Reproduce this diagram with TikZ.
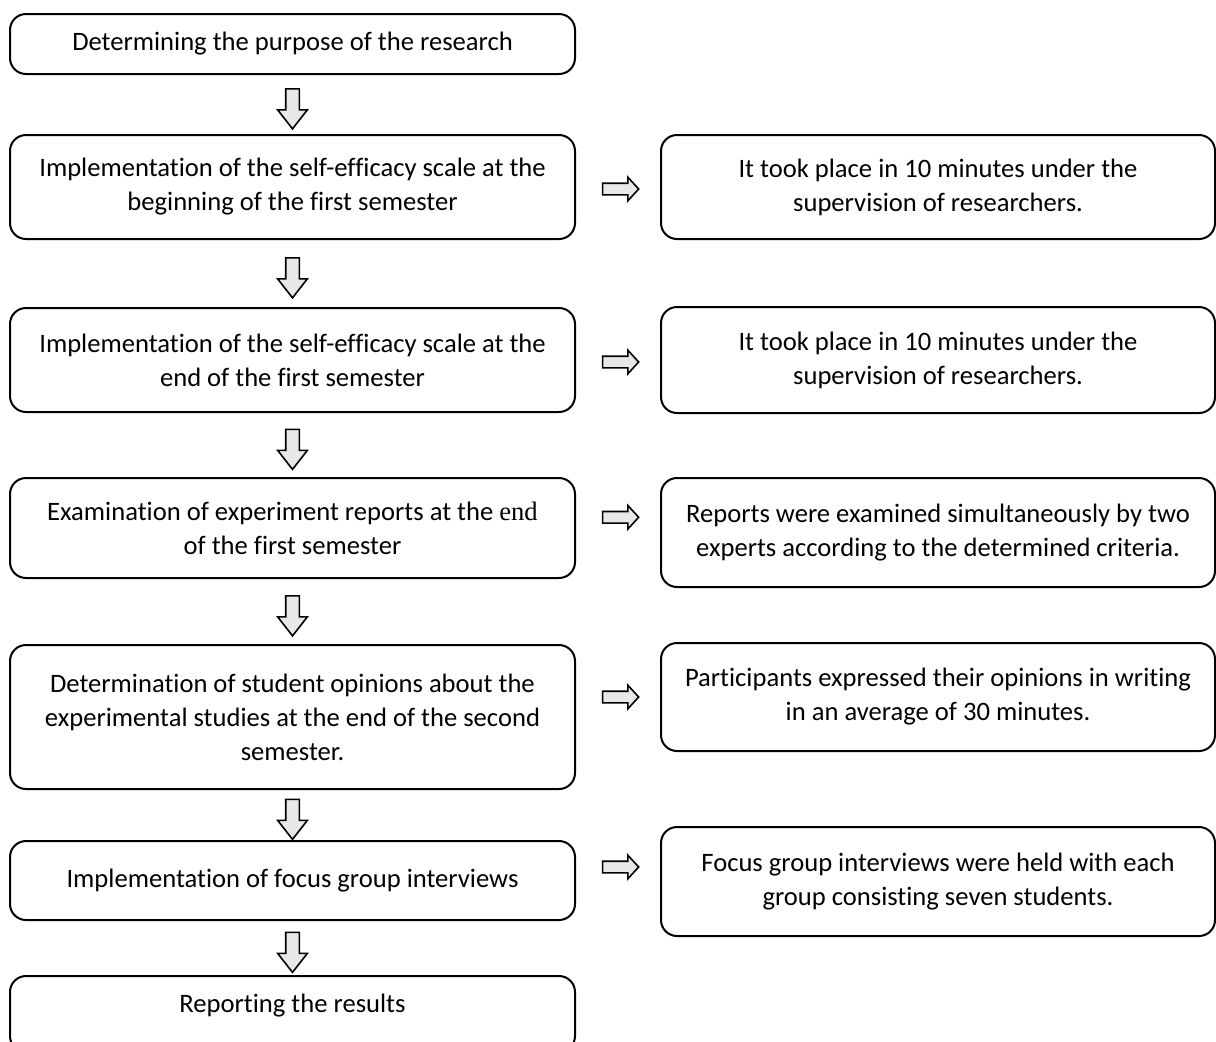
\documentclass[tikz,border=0pt]{standalone}
\usepackage{fontspec}
\setmainfont{Carlito}[Ligatures=CommonOff]
\newfontfamily\timesfont{Liberation Serif}
\usetikzlibrary{shapes.arrows,calc}

\begin{document}
\begin{tikzpicture}[x=0.5pt,y=-0.5pt,
    box/.style={draw, line width=1pt, rounded corners=8pt, align=center, inner sep=0pt, font=\fontsize{13.3}{17}\selectfont},
    leftbox/.style={box, minimum width=282.5pt},
    rightbox/.style={box, minimum width=277pt},
    downarrow/.style={single arrow, draw, line width=0.8pt, fill=gray!18, rotate=-90, minimum height=20pt, inner xsep=0pt, inner ysep=3pt, single arrow head extend=4pt, single arrow tip angle=76},
    rightarrow/.style={single arrow, draw, line width=0.8pt, fill=gray!18, minimum height=18pt, inner xsep=0pt, inner ysep=2.5pt, single arrow head extend=3pt, single arrow tip angle=95}]
    \useasboundingbox (0,0) rectangle (1216,1041);

    % Steps of the study
    \node[leftbox, minimum height=30pt] (purpose) at (292.5,44) {Determining the purpose of the research};
    \node[leftbox, minimum height=52pt] (scalebegin) at (292.5,187) {Implementation of the self-efficacy scale at the\\ beginning of the first semester};
    \node[leftbox, minimum height=52pt] (scaleend) at (292.5,360) {Implementation of the self-efficacy scale at the\\ end of the first semester};
    \node[leftbox, minimum height=50pt] (reports) at (292.5,528) {Examination of experiment reports at the {\timesfont end}\\ of the first semester};
    \node[leftbox, minimum height=72pt] (opinions) at (292.5,717) {Determination of student opinions about the\\ experimental studies at the end of the second\\ semester.};
    \node[leftbox, minimum height=39.5pt] (focus) at (292.5,880.5) {Implementation of focus group interviews};
    \node[leftbox, anchor=north, text height=18pt, text depth=20pt] (results) at (292.5,975) {Reporting the results};

    % Notes
    \node[rightbox, minimum height=52pt] (time1) at (938,187) {It took place in 10 minutes under the\\ supervision of researchers.};
    \node[rightbox, minimum height=53pt] (time2) at (938,360) {It took place in 10 minutes under the\\ supervision of researchers.};
    \node[rightbox, minimum height=54.5pt] (experts) at (938,532.5) {Reports were examined simultaneously by two\\ experts according to the determined criteria.};
    \node[rightbox, minimum height=54pt] (writing) at (938,697) {Participants expressed their opinions in writing\\ in an average of 30 minutes.};
    \node[rightbox, minimum height=54.5pt] (groups) at (938,881.5) {Focus group interviews were held with each\\ group consisting seven students.};

    % Arrows
    \foreach \a/\b in {purpose/scalebegin, scalebegin/scaleend, scaleend/reports, reports/opinions, opinions/focus, focus/results}
        \node[downarrow] (down-\a) at ($(\a.south)!0.5!(\b.north)$) {};
    \foreach \a/\b/\s in {scalebegin/time1/-1, scaleend/time2/-1, reports/experts/6.5, opinions/writing/5, focus/groups/7}
        \node[rightarrow, yshift=\s pt] (right-\a) at ($(\a.east)!0.5!(\b.west)$) {};
\end{tikzpicture}
\end{document}
